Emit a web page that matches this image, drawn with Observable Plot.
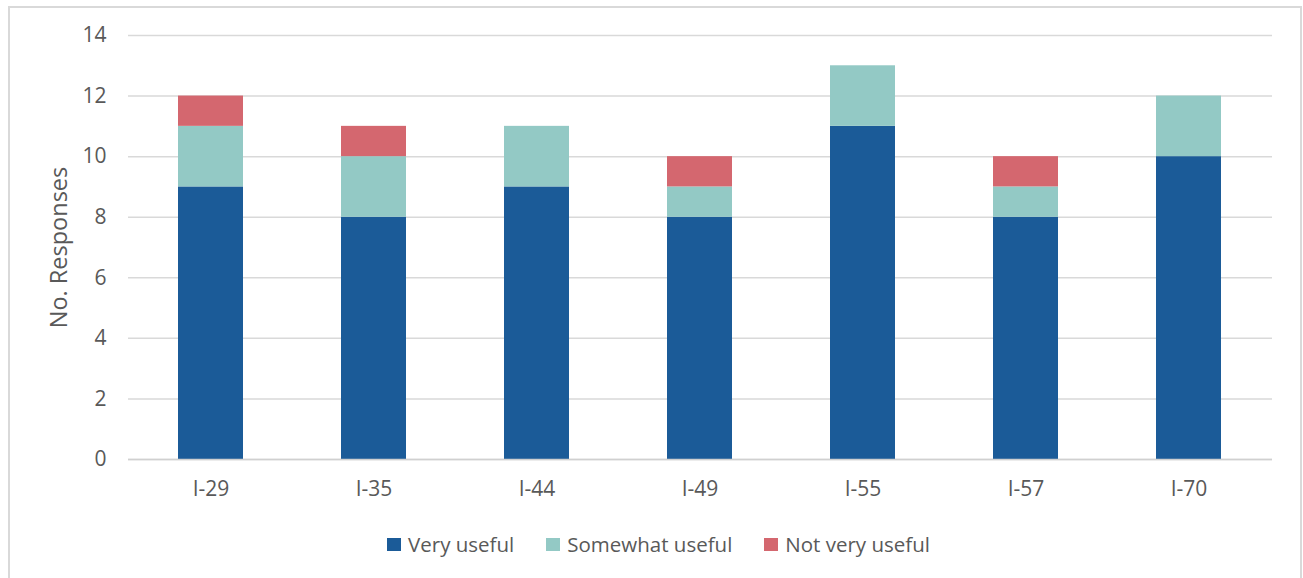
<!DOCTYPE html>
<html>
<head>
<meta charset="utf-8">
<script src="https://cdn.jsdelivr.net/npm/d3@7"></script>
<script src="https://cdn.jsdelivr.net/npm/@observablehq/plot@0.6"></script>
<style>
  html, body { margin: 0; padding: 0; background: #fff; }
  body { width: 1303px; height: 578px; position: relative; overflow: hidden; font-family: "Open Sans", sans-serif; }
  #frame { position: absolute; left: 8px; top: 6px; width: 1294px; height: 600px; border: 2px solid #d9d9d9; box-sizing: border-box; }
  #chart { position: absolute; left: 0; top: 0; }
  #chart svg text { font-size: 21px; font-family: "Open Sans", sans-serif; }
  #chart svg g[aria-label="y-axis label"] text { font-size: 23.5px; }
  #legend { position: absolute; left: 0; top: 530px; width: 1303px; display: flex; justify-content: center; padding-left: 14px; box-sizing: border-box;
            font-family: "Open Sans", sans-serif; font-size: 20.5px; color: #595959; }
  .item { display: flex; align-items: center; margin: 0 16px; }
  .sw { width: 14px; height: 13px; margin-right: 7px; }
</style>
</head>
<body>
<div id="frame"></div>
<div id="chart"></div>
<div id="legend"></div>
<script>
const categories = ["I-29", "I-35", "I-44", "I-49", "I-55", "I-57", "I-70"];
const veryUseful = [9, 8, 9, 8, 11, 8, 10];
const somewhatUseful = [2, 2, 2, 1, 2, 1, 2];
const notVeryUseful = [1, 1, 0, 1, 0, 1, 0];
const seriesNames = ["Very useful", "Somewhat useful", "Not very useful"];
const seriesColors = ["#1b5b98", "#93c9c5", "#d4676f"];
const yTicks = [0, 2, 4, 6, 8, 10, 12, 14];

const seriesValues = [veryUseful, somewhatUseful, notVeryUseful];
const data = [];
seriesNames.forEach((s, si) => {
  categories.forEach((c, ci) => {
    data.push({category: c, series: s, order: si, value: seriesValues[si][ci]});
  });
});

const plot = Plot.plot({
  width: 1303,
  height: 520,
  marginLeft: 128,
  marginRight: 31,
  marginTop: 35,
  marginBottom: 61,
  style: {fontFamily: "Open Sans, sans-serif", fontSize: "21px", color: "#595959", background: "transparent"},
  x: {domain: categories, paddingInner: 0.6, paddingOuter: 0.3},
  y: {domain: [0, 14]},
  color: {domain: seriesNames, range: seriesColors},
  marks: [
    Plot.gridY(yTicks, {stroke: "#d9d9d9", strokeOpacity: 1, strokeWidth: 1.5}),
    Plot.barY(data, {x: "category", y: "value", fill: "series", order: seriesNames}),
    Plot.ruleY([0], {stroke: "#d0d0d0", strokeWidth: 1.5}),
    Plot.axisY(yTicks, {tickSize: 0, tickPadding: 22, label: "No. Responses", labelAnchor: "center", labelArrow: "none", labelOffset: 78}),
    Plot.axisX({tickSize: 0, tickPadding: 22, label: null})
  ]
});
document.getElementById("chart").appendChild(plot);

const legend = document.getElementById("legend");
seriesNames.forEach((s, i) => {
  const item = document.createElement("div");
  item.className = "item";
  const sw = document.createElement("div");
  sw.className = "sw";
  sw.style.background = seriesColors[i];
  const t = document.createElement("span");
  t.textContent = s;
  item.appendChild(sw);
  item.appendChild(t);
  legend.appendChild(item);
});
</script>
</body>
</html>
